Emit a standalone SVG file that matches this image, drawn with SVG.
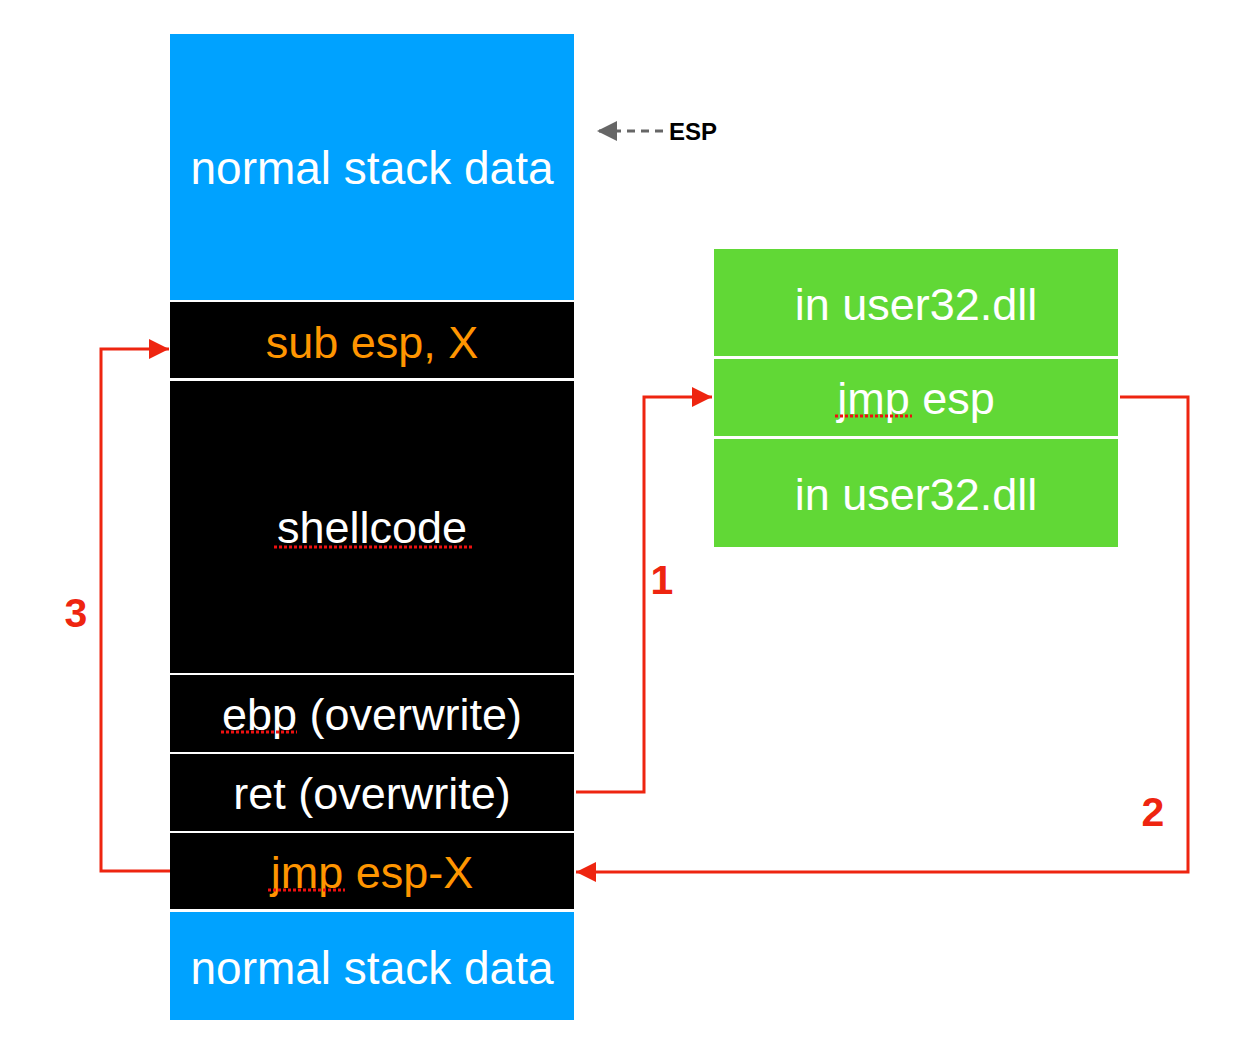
<svg xmlns="http://www.w3.org/2000/svg" width="1242" height="1064" viewBox="0 0 1242 1064">
<style>
.t{font-family:"Liberation Sans",Arial,sans-serif;font-size:45px;text-anchor:middle}
.big{font-size:46px}
.w{fill:#ffffff}
.o{fill:#FF9500}
.num{font-family:"Liberation Sans",Arial,sans-serif;font-size:41px;font-weight:bold;fill:#EE2510;text-anchor:middle}
.blue{fill:#00A2FF}
.black{fill:#000000}
.green{fill:#61D836}
.red{fill:none;stroke:#EE2510;stroke-width:3}
.sq{stroke:#EE1010;stroke-width:3;stroke-dasharray:3 2;fill:none}
</style>
<defs>
<marker id="ahr" viewBox="0 0 20 20" refX="20" refY="10" markerWidth="20" markerHeight="20" markerUnits="userSpaceOnUse" orient="auto">
<path d="M0,0 L20,10 L0,20 z" fill="#EE2510"/>
</marker>
<marker id="ahg" viewBox="0 0 20 20" refX="20" refY="10" markerWidth="20" markerHeight="20" markerUnits="userSpaceOnUse" orient="auto">
<path d="M0,0 L20,10 L0,20 z" fill="#666666"/>
</marker>
</defs>
<rect width="1242" height="1064" fill="#ffffff"/>
<g id="stack-top">
<rect class="blue" x="170" y="34" width="404" height="266"/>
<text class="t big w" x="372" y="184">normal stack data</text>
</g>
<g id="sub-esp">
<rect class="black" x="170" y="302" width="404" height="76"/>
<text class="t o" x="372" y="358">sub esp, X</text>
</g>
<g id="shellcode">
<rect class="black" x="170" y="381" width="404" height="292"/>
<text class="t w" x="372" y="543">shellcode</text>
<line class="sq" x1="274" y1="547" x2="472" y2="547"/>
</g>
<g id="ebp">
<rect class="black" x="170" y="675" width="404" height="77"/>
<text class="t w" x="372" y="730">ebp (overwrite)</text>
<line class="sq" x1="221" y1="732" x2="297" y2="732"/>
</g>
<g id="ret">
<rect class="black" x="170" y="754" width="404" height="77"/>
<text class="t w" x="372" y="809">ret (overwrite)</text>
</g>
<g id="jmp-esp-x">
<rect class="black" x="170" y="833" width="404" height="76"/>
<text class="t o" x="372" y="888">jmp esp-X</text>
<line class="sq" x1="268" y1="890" x2="345" y2="890"/>
</g>
<g id="stack-bottom">
<rect class="blue" x="170" y="912" width="404" height="108"/>
<text class="t big w" x="372" y="984">normal stack data</text>
</g>
<g id="dll-top">
<rect class="green" x="714" y="249" width="404" height="107"/>
<text class="t w" x="916" y="320">in user32.dll</text>
</g>
<g id="dll-jmp">
<rect class="green" x="714" y="359" width="404" height="77"/>
<text class="t w" x="916" y="414">jmp esp</text>
<line class="sq" x1="835" y1="416" x2="912" y2="416"/>
</g>
<g id="dll-bottom">
<rect class="green" x="714" y="439" width="404" height="108"/>
<text class="t w" x="916" y="510">in user32.dll</text>
</g>
<g id="esp-label">
<text x="669" y="140" font-family="'Liberation Sans',Arial,sans-serif" font-size="24" font-weight="bold" fill="#000000">ESP</text>
</g>
<g id="connectors">
<line x1="663" y1="131" x2="597" y2="131" stroke="#666666" stroke-width="3" stroke-dasharray="8 6" marker-end="url(#ahg)"/>
<polyline class="red" points="576,792 644,792 644,397 712,397" marker-end="url(#ahr)"/>
<polyline class="red" points="1120,397 1188,397 1188,872 576,872" marker-end="url(#ahr)"/>
<polyline class="red" points="170,871 101,871 101,349 169,349" marker-end="url(#ahr)"/>
<text class="num" x="662" y="594">1</text>
<text class="num" x="1153" y="826">2</text>
<text class="num" x="76" y="627">3</text>
</g>
</svg>
